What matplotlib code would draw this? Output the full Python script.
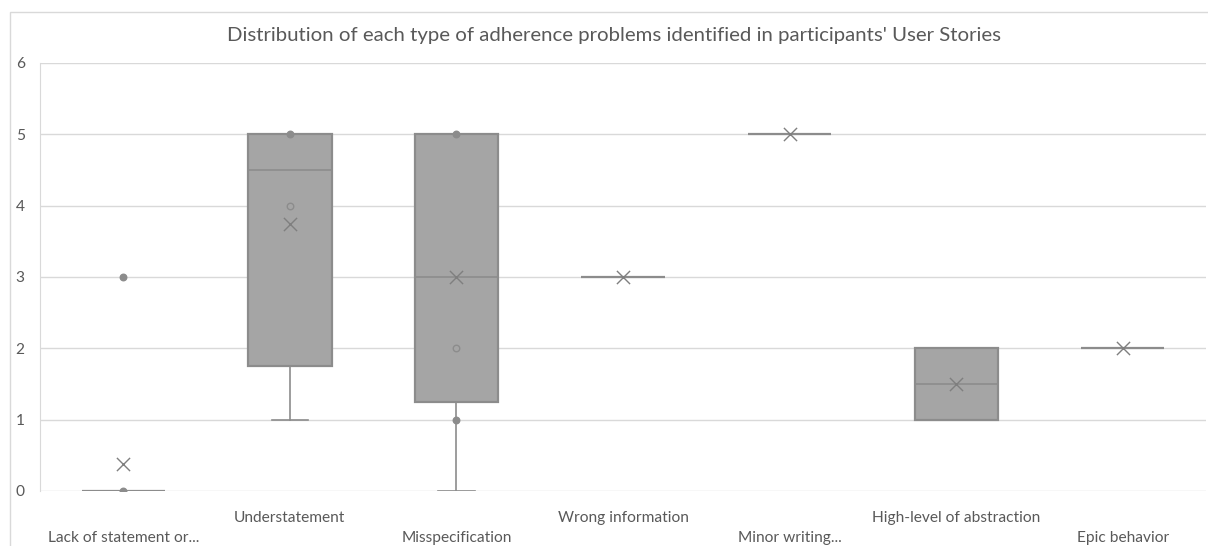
import matplotlib
matplotlib.use("Agg")
import matplotlib.pyplot as plt
from matplotlib.patches import Rectangle
import numpy as np

plt.rcParams['font.family'] = ['Lato', 'DejaVu Sans']

title = "Distribution of each type of adherence problems identified in participants' User Stories"
categories = ["Lack of statement or...", "Understatement", "Misspecification",
              "Wrong information", "Minor writing...", "High-level of abstraction",
              "Epic behavior"]
q1 = [0, 1.75, 1.25, 3, 5, 1, 2]
median = [0, 4.5, 3, 3, 5, 1.5, 2]
q3 = [0, 5, 5, 3, 5, 2, 2]
whisker_low = [0, 1, 0, 3, 5, 1, 2]
whisker_high = [0, 5, 5, 3, 5, 2, 2]
means = [0.375, 3.75, 3, 3, 5, 1.5, 2]
# individual points shown on the boxes
point_cat = [0, 0, 1, 1, 2, 2, 2]
point_val = [0, 3, 5, 4, 5, 2, 1]
yticks = [0, 1, 2, 3, 4, 5, 6]

W, H = 1208, 546
fig = plt.figure(figsize=(W / 100, H / 100), dpi=100)
fig.patches.append(Rectangle((10 / W, -0.1), 1.2, 1 - 12 / H + 0.1, transform=fig.transFigure,
                             fill=False, edgecolor='#d9d9d9', linewidth=1.0))
ax = fig.add_axes([40 / W, 1 - 491 / H, (1206 - 40) / W, (491 - 63) / H])

box_face = '#a5a5a5'
edge = '#8c8c8c'
stats = []
for i in range(len(categories)):
    stats.append(dict(med=median[i], q1=q1[i], q3=q3[i], whislo=whisker_low[i],
                      whishi=whisker_high[i], mean=means[i], fliers=[]))
pos = np.arange(len(categories))
ax.bxp(stats, positions=pos, widths=0.5, patch_artist=True, showmeans=False,
       showfliers=False,
       boxprops=dict(facecolor=box_face, edgecolor=edge, linewidth=1.6),
       medianprops=dict(color=edge, linewidth=1.2),
       whiskerprops=dict(color=edge, linewidth=1.2),
       capprops=dict(color=edge, linewidth=1.2), capwidths=0.22)

ax.scatter(pos, means, marker='x', s=90, color='#7f7f7f', linewidths=1.0, zorder=5)
for c, v in zip(point_cat, point_val):
    inside = q1[c] < v < q3[c]
    ax.scatter([c], [v], s=22, facecolor=box_face if inside else '#8c8c8c',
               edgecolor='#8c8c8c', linewidths=1.0, zorder=6)

ax.set_xlim(-0.5, len(categories) - 0.5)
ax.set_ylim(0, 6)
ax.set_yticks(yticks)
ax.yaxis.grid(True, color='#d9d9d9', linewidth=1.0)
ax.set_axisbelow(True)
for s in ['top', 'right', 'bottom']:
    ax.spines[s].set_visible(False)
ax.spines['left'].set_color('#d9d9d9')
ax.tick_params(axis='y', length=0, pad=11, labelsize=11.2, labelcolor='#595959')
ax.tick_params(axis='x', length=0)
ax.set_xticks(pos)
ax.set_xticklabels([])
for i, lab in enumerate(categories):
    yoff = -27 if i % 2 == 1 else -47
    ax.annotate(lab, xy=(i, 0), xycoords='data', xytext=(0, yoff), textcoords='offset pixels',
                ha='center', va='center', fontsize=11.2, color='#595959', annotation_clip=False)

fig.text(614 / W, 1 - 36 / H, title, ha='center', va='center', fontsize=14.7, color='#595959')

fig.savefig('out.png', dpi=100)
